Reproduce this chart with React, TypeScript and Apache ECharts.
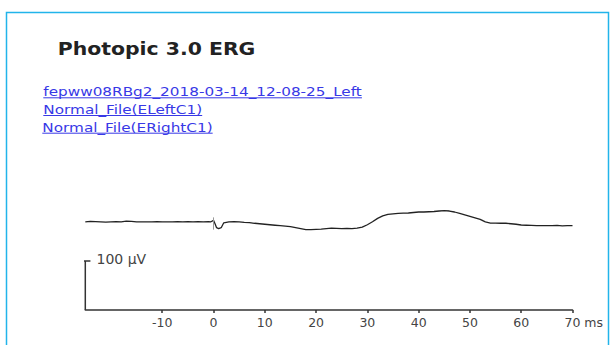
import React, { useEffect, useRef } from "react";
import * as echarts from "echarts";

const titleText = "Photopic 3.0 ERG";
const linkLabels = [
  "fepww08RBg2_2018-03-14_12-08-25_Left",
  "Normal_File(ELeftC1)",
  "Normal_File(ERightC1)",
];
const xTickValues = [-10, 0, 10, 20, 30, 40, 50, 60, 70];
const xMin = -25;
const xMax = 70;
const xUnit = "ms";
const scaleBarLabel = "100 µV";
const scaleBarValue = 100;

// trace: [ms, µV]
const traceTimes = [
  -25, -24, -23, -22, -21, -20, -19, -18, -17, -16, -15, -14, -13, -12, -11, -10, -9, -8, -7, -6, -5, -4, -3, -2, -1, -0.5,
  0, 0.3, 0.6, 1, 1.5, 2, 3, 4, 5, 6, 7, 8, 9, 10, 11, 12, 13, 14, 15, 16, 17, 18, 19, 20,
  21, 22, 23, 24, 25, 26, 27, 28, 29, 30, 31, 32, 33, 34, 35, 36, 37, 38, 39, 40,
  41, 42, 43, 44, 45, 46, 47, 48, 49, 50, 51, 52, 53, 54, 55, 56, 57, 58, 59, 60,
  61, 62, 63, 64, 65, 66, 67, 68, 69, 70,
];
const traceValues = [
  0, 1, 0.5, 0, -0.5, 0, 0.5, 0, 1.5, 1, 0, 0, 0, 0, 0.5, 0, 0, 0, 0.5, 0, 0.5, 0, 0.5, 0, 0.5, 0,
  3, -4, -12, -14, -12, -2, 0, 0.5, 0, -1, -1.5, -3, -4, -5, -6, -7, -8, -9, -10, -12, -14, -16, -16, -15.5,
  -15, -14, -13, -13.5, -14, -13.5, -14, -13, -11, -6, 0, 7, 12, 15, 16, 17, 17.5, 18, 19, 20,
  20, 20.5, 21, 22, 23, 22, 20, 17, 14, 11, 8, 5, 0, -2.5, -2.5, -3, -3, -4, -5, -6.5,
  -7, -7.5, -8, -8, -8, -8, -7.5, -8.5, -8, -8,
];
const artifactTime = 0;
const artifactRange = [9, -16];

const yMin = -180;
const yMax = 60;

export default function App() {
  const ref = useRef<HTMLDivElement>(null);
  useEffect(() => {
    document.body.style.margin = "0";
    if (!ref.current) return;
    const chart = echarts.init(ref.current, null, { renderer: "svg" });

    const linkFont = '12.5px "DejaVu Sans"';
    const linkScale = 1.22;
    const cv = document.createElement("canvas");
    const ctx = cv.getContext("2d");
    const measure = (t: string) => {
      if (!ctx) return t.length * 7.2;
      ctx.font = linkFont;
      return ctx.measureText(t).width;
    };

    const linkColor = "#3838e6";
    const linkX = 43.3;
    const linkY0 = 92;
    const linkStep = 17.7;
    const linkGraphics: any[] = [];
    linkLabels.forEach((t, i) => {
      const y = linkY0 + i * linkStep;
      const x = linkX - (i === 2 ? 1 : 0);
      linkGraphics.push({
        type: "text",
        x,
        y,
        scaleX: linkScale,
        style: {
          text: t,
          fill: linkColor,
          font: linkFont,
          textVerticalAlign: "middle",
        },
      });
      linkGraphics.push({
        type: "line",
        shape: { x1: x, y1: y + 5.8, x2: x + measure(t) * linkScale, y2: y + 5.8 },
        style: { stroke: linkColor, lineWidth: 1 },
      });
    });

    const traceData = traceTimes.map((t, i) => [t, traceValues[i]]);

    chart.setOption({
      animation: false,
      grid: { left: 85.3, right: 39.5, top: 192.4, bottom: 35 },
      xAxis: {
        type: "value",
        min: xMin,
        max: xMax,
        name: xUnit,
        nameLocation: "end",
        nameGap: 7,
        nameTextStyle: {
          color: "#444",
          fontSize: 12.5,
          fontFamily: "DejaVu Sans",
          verticalAlign: "top",
          padding: [6, 0, 0, 0],
        },
        splitLine: { show: false },
        axisLine: { show: true, onZero: false, lineStyle: { color: "#333", width: 1.5 } },
        axisTick: {
          show: true,
          length: 3,
          customValues: xTickValues,
          lineStyle: { color: "#333", width: 1.5 },
        },
        axisLabel: {
          customValues: xTickValues,
          color: "#444",
          fontSize: 12.5,
          fontFamily: "DejaVu Sans",
          margin: 6,
        },
      },
      yAxis: {
        type: "value",
        min: yMin,
        max: yMax,
        show: false,
      },
      series: [
        {
          type: "line",
          data: traceData,
          showSymbol: false,
          lineStyle: { color: "#222", width: 1.3 },
          silent: true,
        },
        {
          type: "line",
          data: [
            [artifactTime, artifactRange[0]],
            [artifactTime, artifactRange[1]],
          ],
          showSymbol: false,
          lineStyle: { color: "#999", width: 1 },
          silent: true,
        },
        {
          type: "line",
          data: [
            [xMin, yMin],
            [xMin, yMin + scaleBarValue],
          ],
          showSymbol: false,
          lineStyle: { color: "#333", width: 1.5 },
          silent: true,
        },
        {
          type: "line",
          data: [
            [xMin - 0.45, yMin + scaleBarValue],
            [xMin + 1.0, yMin + scaleBarValue],
          ],
          showSymbol: false,
          lineStyle: { color: "#333", width: 1.5 },
          silent: true,
        },
      ],
      graphic: [
        {
          type: "rect",
          shape: { x: 6.5, y: 12.5, width: 602, height: 360 },
          style: { fill: "none", stroke: "#22b4ea", lineWidth: 1.5 },
          z: 0,
        },
        {
          type: "text",
          x: 57.8,
          y: 49,
          scaleX: 1.2,
          style: {
            text: titleText,
            fill: "#222",
            font: 'bold 17px "DejaVu Sans"',
            textVerticalAlign: "middle",
          },
        },
        ...linkGraphics,
        {
          type: "text",
          x: 96.5,
          y: 259,
          style: {
            text: scaleBarLabel,
            fill: "#444",
            font: '14px "DejaVu Sans"',
            textVerticalAlign: "middle",
          },
        },
      ],
    });
    return () => chart.dispose();
  }, []);
  return <div ref={ref} style={{ width: 612, height: 345 }} />;
}
